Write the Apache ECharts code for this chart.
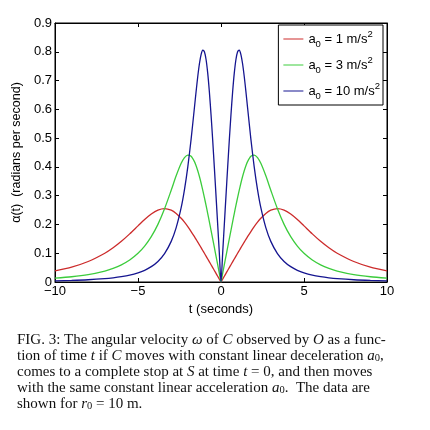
<!DOCTYPE html>
<html>
<head>
<meta charset="utf-8">
<script src="https://cdn.jsdelivr.net/npm/echarts@6/dist/echarts.min.js"></script>
<style>
  html, body { margin: 0; padding: 0; background: #fff; }
  #chart { width: 430px; height: 430px; }
</style>
</head>
<body>
<div id="chart"></div>
<script>
// time samples (seconds)
var tSec = [-10, -9, -8, -7, -6.5, -6, -5.5, -5, -4.6, -4.2, -3.8, -3.4, -3, -2.7, -2.4, -2.2, -2, -1.8, -1.6, -1.5, -1.4, -1.3, -1.2, -1.1, -1, -0.9, -0.8, -0.7, -0.6, -0.5, -0.4, -0.3, -0.2, -0.1,
  0, 0.1, 0.2, 0.3, 0.4, 0.5, 0.6, 0.7, 0.8, 0.9, 1, 1.1, 1.2, 1.3, 1.4, 1.5, 1.6, 1.8, 2, 2.2, 2.4, 2.7, 3, 3.4, 3.8, 4.2, 4.6, 5, 5.5, 6, 6.5, 7, 8, 9, 10];

// omega, a0 = 1 m/s^2
var omegaA1 = [0.0385, 0.0517, 0.0712, 0.1000, 0.1190, 0.1415, 0.1673, 0.1951, 0.2170, 0.2362, 0.2498, 0.2549, 0.2495, 0.2383, 0.2216, 0.2078, 0.1923, 0.1754, 0.1574, 0.1481, 0.1387, 0.1291, 0.1194, 0.1096, 0.0998, 0.0899, 0.0799, 0.0700, 0.0600, 0.0500, 0.0400, 0.0300, 0.0200, 0.0100,
  0, 0.0100, 0.0200, 0.0300, 0.0400, 0.0500, 0.0600, 0.0700, 0.0799, 0.0899, 0.0998, 0.1096, 0.1194, 0.1291, 0.1387, 0.1481, 0.1574, 0.1754, 0.1923, 0.2078, 0.2216, 0.2383, 0.2495, 0.2549, 0.2498, 0.2362, 0.2170, 0.1951, 0.1673, 0.1415, 0.1190, 0.1000, 0.0712, 0.0517, 0.0385];

// a0 = 3 m/s^2
var omegaA3 = [0.0133, 0.0182, 0.0258, 0.0382, 0.0474, 0.0597, 0.0764, 0.0996, 0.1246, 0.1575, 0.2003, 0.2546, 0.3189, 0.3689, 0.4123, 0.4322, 0.4412, 0.4368, 0.4183, 0.4040, 0.3866, 0.3665, 0.3440, 0.3195, 0.2934, 0.2661, 0.2378, 0.2089, 0.1795, 0.1498, 0.1199, 0.0900, 0.0600, 0.0300,
  0, 0.0300, 0.0600, 0.0900, 0.1199, 0.1498, 0.1795, 0.2089, 0.2378, 0.2661, 0.2934, 0.3195, 0.3440, 0.3665, 0.3866, 0.4040, 0.4183, 0.4368, 0.4412, 0.4322, 0.4123, 0.3689, 0.3189, 0.2546, 0.2003, 0.1575, 0.1246, 0.0996, 0.0764, 0.0597, 0.0474, 0.0382, 0.0258, 0.0182, 0.0133];

// a0 = 10 m/s^2
var omegaA10 = [0.0040, 0.0055, 0.0078, 0.0116, 0.0145, 0.0185, 0.0239, 0.0318, 0.0407, 0.0533, 0.0715, 0.0988, 0.1412, 0.1890, 0.2582, 0.3209, 0.4000, 0.4966, 0.6064, 0.6621, 0.7141, 0.7584, 0.7903, 0.8053, 0.8000, 0.7732, 0.7257, 0.6604, 0.5812, 0.4923, 0.3975, 0.2994, 0.1999, 0.1000,
  0, 0.1000, 0.1999, 0.2994, 0.3975, 0.4923, 0.5812, 0.6604, 0.7257, 0.7732, 0.8000, 0.8053, 0.7903, 0.7584, 0.7141, 0.6621, 0.6064, 0.4966, 0.4000, 0.3209, 0.2582, 0.1890, 0.1412, 0.0988, 0.0715, 0.0533, 0.0407, 0.0318, 0.0239, 0.0185, 0.0145, 0.0116, 0.0078, 0.0055, 0.0040];

var accel = ['1', '3', '10'];
var lineColors = ['#cc2b2b', '#3ccc3c', '#151590'];

var sans = 'Liberation Sans, Arial, sans-serif';
var serif = 'Liberation Serif, DejaVu Serif, serif';

function pairs(ys) {
  return tSec.map(function (t, i) { return [t, ys[i]]; });
}

function legendName(a) {
  return 'a0 = ' + a + ' m/s2';
}

var seriesData = [omegaA1, omegaA3, omegaA10];

var chart = echarts.init(document.getElementById('chart'), null, { renderer: 'canvas' });

var tickStyle = { inside: true, length: 4, lineStyle: { color: '#000', width: 1 } };

var capStyle = {
  n: { fontFamily: serif, fontSize: 15, color: '#111' },
  i: { fontFamily: serif, fontSize: 15, color: '#111', fontStyle: 'italic' },
  s: { fontFamily: serif, fontSize: 10.5, color: '#111', verticalAlign: 'bottom' }
};

var captionLines = [
  '{n|FIG. 3: The angular velocity }{i|ω}{n| of }{i|C}{n| observed by }{i|O}{n| as a func-}',
  '{n|tion of time }{i|t}{n| if }{i|C}{n| moves with constant linear deceleration }{i|a}{s|0}{n|,}',
  '{n|comes to a complete stop at }{i|S}{n| at time }{i|t}{n| = 0, and then moves}',
  '{n|with the same constant linear acceleration }{i|a}{s|0}{n|.  The data are}',
  '{n|shown for }{i|r}{s|0}{n| = 10 m.}'
];

var option = {
  backgroundColor: '#fff',
  animation: false,
  grid: { left: 55, right: 43, top: 23, bottom: 148, show: true, borderColor: '#000', borderWidth: 1 },
  legend: {
    data: accel.map(legendName),
    orient: 'vertical',
    right: 47,
    top: 25,
    backgroundColor: '#fff',
    borderColor: '#000',
    borderWidth: 1,
    borderRadius: 0,
    padding: [4, 3, 4, 5],
    itemGap: 6,
    itemWidth: 20,
    itemHeight: 1,
    icon: 'rect',
    formatter: function (name) {
      var a = name.split(' ')[2];
      return '{n|a}{sub|0}{n| = ' + a + ' m/s}{sup|2}';
    },
    textStyle: {
      rich: {
        n: { fontFamily: sans, fontSize: 13, color: '#000', lineHeight: 20, verticalAlign: 'middle' },
        sub: { fontFamily: sans, fontSize: 9.5, color: '#000', verticalAlign: 'bottom' },
        sup: { fontFamily: sans, fontSize: 9.5, color: '#000', verticalAlign: 'top' }
      }
    }
  },
  xAxis: [{
    type: 'value',
    min: -10, max: 10, interval: 5,
    name: 't (seconds)',
    nameLocation: 'middle',
    nameGap: 21,
    nameTextStyle: { fontFamily: sans, fontSize: 13, color: '#000' },
    axisLine: { onZero: false, lineStyle: { color: '#000' } },
    axisTick: tickStyle,
    splitLine: { show: false },
    axisLabel: {
      fontFamily: sans, fontSize: 13, color: '#000', margin: 3,
      formatter: function (v) { return v < 0 ? '\u2212' + Math.abs(v) : String(v); }
    }
  }, {
    type: 'value', position: 'top',
    min: -10, max: 10, interval: 5,
    axisLine: { onZero: false, lineStyle: { color: '#000' } },
    axisTick: tickStyle,
    axisLabel: { show: false },
    splitLine: { show: false }
  }],
  yAxis: [{
    type: 'value',
    min: 0, max: 0.9, interval: 0.1,
    name: 'α(t)  (radians per second)',
    nameLocation: 'middle',
    nameGap: 27,
    nameTextStyle: { fontFamily: sans, fontSize: 12.5, color: '#000' },
    axisLine: { onZero: false, lineStyle: { color: '#000' } },
    axisTick: tickStyle,
    splitLine: { show: false },
    axisLabel: {
      fontFamily: sans, fontSize: 13, color: '#000', margin: 3,
      formatter: function (v) { return v === 0 ? '0' : v.toFixed(1); }
    }
  }, {
    type: 'value', position: 'right',
    min: 0, max: 0.9, interval: 0.1,
    axisLine: { show: true, onZero: false, lineStyle: { color: '#000' } },
    axisTick: tickStyle,
    axisLabel: { show: false },
    splitLine: { show: false }
  }],
  series: seriesData.map(function (ys, k) {
    return {
      name: legendName(accel[k]),
      type: 'line',
      xAxisIndex: 0,
      yAxisIndex: 0,
      data: pairs(ys),
      smooth: 0.25,
      showSymbol: false,
      symbol: 'none',
      color: lineColors[k],
      lineStyle: { color: lineColors[k], width: 1.3 }
    };
  }),
  graphic: captionLines.map(function (txt, i) {
    return {
      type: 'text',
      left: 17,
      top: 333 + i * 16,
      style: { text: txt, rich: capStyle, fill: '#111' }
    };
  })
};

chart.setOption(option);
</script>
</body>
</html>
